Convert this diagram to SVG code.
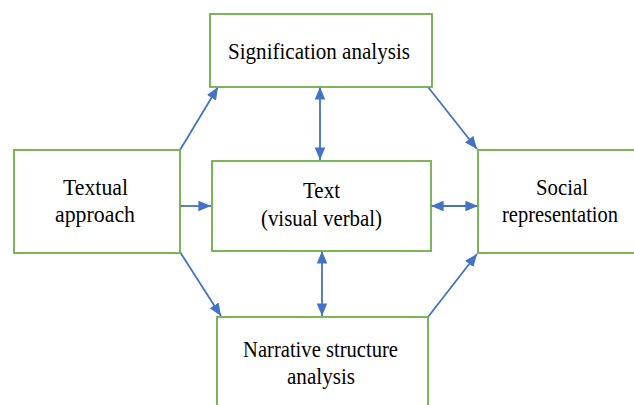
<svg xmlns="http://www.w3.org/2000/svg" width="634" height="405" viewBox="0 0 634 405">
<style>
.box{fill:#fff;stroke:#70AD47;stroke-width:1.8}
.c{stroke:#4472C4;stroke-width:1.8;fill:none}
text{font-family:'Liberation Serif','Times New Roman',serif;font-size:24px;fill:#000;text-anchor:middle}
</style>
<defs>
<marker id="ah" viewBox="0 0 10 10" refX="10" refY="5" markerWidth="7" markerHeight="7" markerUnits="strokeWidth" orient="auto-start-reverse">
<path d="M0,0.8 L10,5 L0,9.2 z" fill="#4472C4"/>
</marker>
</defs>
<rect width="634" height="405" fill="#fff"/>
<g id="connectors">
<line class="c" x1="180" y1="150" x2="218" y2="87" marker-end="url(#ah)"/>
<line class="c" x1="320" y1="87" x2="320" y2="160" marker-start="url(#ah)" marker-end="url(#ah)"/>
<line class="c" x1="428" y1="87" x2="477" y2="149" marker-end="url(#ah)"/>
<line class="c" x1="180" y1="206" x2="211" y2="206" marker-end="url(#ah)"/>
<line class="c" x1="431" y1="206" x2="478" y2="206" marker-start="url(#ah)" marker-end="url(#ah)"/>
<line class="c" x1="180" y1="252" x2="221" y2="316" marker-end="url(#ah)"/>
<line class="c" x1="322" y1="251" x2="322" y2="316" marker-start="url(#ah)" marker-end="url(#ah)"/>
<line class="c" x1="428" y1="317" x2="477" y2="254" marker-end="url(#ah)"/>
</g>
<g id="signification">
<rect class="box" x="210" y="14" width="222" height="73"/>
<text x="319" y="59" textLength="182" lengthAdjust="spacingAndGlyphs">Signification analysis</text>
</g>
<g id="textual">
<rect class="box" x="14" y="150" width="166" height="103"/>
<text x="95.5" y="195" textLength="65" lengthAdjust="spacingAndGlyphs">Textual</text>
<text x="95" y="222" textLength="80" lengthAdjust="spacingAndGlyphs">approach</text>
</g>
<g id="text">
<rect class="box" x="212" y="161" width="219" height="90"/>
<text x="321.5" y="198" textLength="37" lengthAdjust="spacingAndGlyphs">Text</text>
<text x="321.5" y="226" textLength="121" lengthAdjust="spacingAndGlyphs">(visual verbal)</text>
</g>
<g id="social">
<rect class="box" x="478" y="150" width="161" height="103"/>
<text x="562" y="195" textLength="52" lengthAdjust="spacingAndGlyphs">Social</text>
<text x="560" y="222" textLength="116" lengthAdjust="spacingAndGlyphs">representation</text>
</g>
<g id="narrative">
<rect class="box" x="217" y="317" width="211" height="95"/>
<text x="320.5" y="357" textLength="155" lengthAdjust="spacingAndGlyphs">Narrative structure</text>
<text x="321" y="384" textLength="68" lengthAdjust="spacingAndGlyphs">analysis</text>
</g>
</svg>
